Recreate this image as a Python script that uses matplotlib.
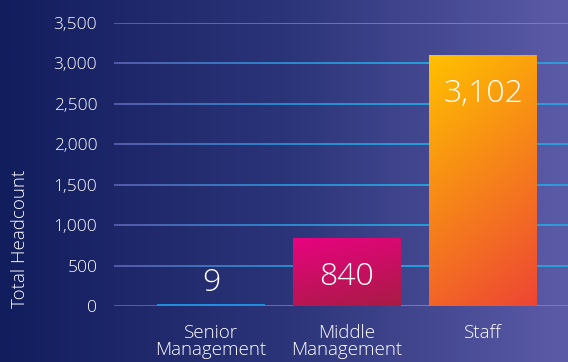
import matplotlib
matplotlib.use("Agg")
import matplotlib.pyplot as plt
import numpy as np
from matplotlib.colors import LinearSegmentedColormap
from matplotlib.collections import LineCollection
from matplotlib.patches import Rectangle

categories = ["Senior\nManagement", "Middle\nManagement", "Staff"]
values = [9, 840, 3102]
value_labels = ["9", "840", "3,102"]
yticks = [0, 500, 1000, 1500, 2000, 2500, 3000, 3500]
ytick_labels = ["0", "500", "1,000", "1,500", "2,000", "2,500", "3,000", "3,500"]

bar_colors = [
    ("#1e8ee0", "#1e8ee0"),
    ("#e8037f", "#a81b45"),
    ("#ffc000", "#ee4634"),
]

plt.rcParams["font.family"] = ["Open Sans", "DejaVu Sans"]
plt.rcParams["font.weight"] = "light"

fig = plt.figure(figsize=(5.68, 3.62), dpi=100)

# background gradient
bg = fig.add_axes([0, 0, 1, 1], zorder=-10)
bg_cmap = LinearSegmentedColormap.from_list("bg", ["#121d5e", "#2b3478", "#5c5ba8"])
bg.imshow(np.linspace(0, 1, 256)[None, :], aspect="auto", cmap=bg_cmap,
          extent=[0, 1, 0, 1])
bg.set_axis_off()

ax = fig.add_axes([114 / 568, 56 / 362, 454 / 568, 283 / 362])
ax.patch.set_alpha(0)
ax.set_xlim(-0.713, 2.625)
ax.set_ylim(0, 3500)

# gridlines with a colour fade from lavender to blue
grid_cmap = LinearSegmentedColormap.from_list("grid", ["#5a5fb0", "#2f8ad0", "#23a6de", "#2aa3dc"])
xs = np.linspace(-0.713, 2.625, 120)
for yv in yticks:
    segs = [[(xs[i], yv), (xs[i + 1], yv)] for i in range(len(xs) - 1)]
    lc = LineCollection(segs, colors=grid_cmap(np.linspace(0, 1, len(segs))),
                        linewidths=1.3, zorder=1)
    ax.add_collection(lc)

width = 0.79
for i, (v, (c1, c2)) in enumerate(zip(values, bar_colors)):
    x0 = i - width / 2
    cmap = LinearSegmentedColormap.from_list(f"b{i}", [c1, c2])
    # diagonal gradient: top-left to bottom-right
    gx, gy = np.meshgrid(np.linspace(0, 1, 60), np.linspace(0, 1, 100))
    grad = 0.75 * gy + 0.25 * gx
    h = max(v, 25)  # keep the tiny bar visible as a line
    im = ax.imshow(grad, aspect="auto", cmap=cmap, origin="upper",
                   extent=[x0, x0 + width, 0, h], zorder=2)
    rect = Rectangle((x0, 0), width, h, transform=ax.transData, fill=False, lw=0)
    ax.add_patch(rect)
    im.set_clip_path(rect)

for i, (v, lab) in enumerate(zip(values, value_labels)):
    if v < 300:
        ax.text(i, v + 280, lab, ha="center", va="center", color="white",
                fontsize=23, zorder=3)
    else:
        ax.text(i, v - 480, lab, ha="center", va="center", color="white",
                fontsize=23, zorder=3)

ax.set_yticks(yticks)
ax.set_yticklabels(ytick_labels)
ax.set_xticks(range(len(categories)))
ax.set_xticklabels(categories, linespacing=0.95)
ax.tick_params(axis="y", length=0, colors="white", labelsize=12.5, pad=12)
ax.tick_params(axis="x", length=0, colors="white", labelsize=13.5, pad=13)
for s in ax.spines.values():
    s.set_visible(False)

fig.text(20 / 568, 1 - 239 / 362, "Total Headcount", rotation=90, color="white",
         fontsize=13.5, ha="center", va="center")

fig.savefig("out.png", dpi=100)
